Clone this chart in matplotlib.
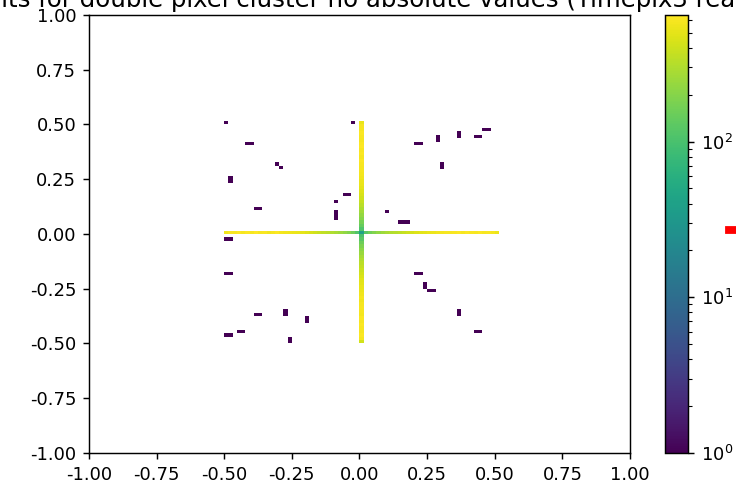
import matplotlib
matplotlib.use("Agg")
import matplotlib.pyplot as plt
from matplotlib.colors import LogNorm
from matplotlib.patches import Rectangle
import numpy as np

plt.rcParams['axes.unicode_minus'] = False

# bin grid of the 2d histogram
nbins = 128
binw = 2.0 / nbins
arm_bins = np.arange(-32, 33)          # bins from -0.5 to 0.5 along each arm

# counts along the horizontal arm (y = 0), left to right
h_counts = [560, 610, 590, 630, 600, 620, 600, 640, 590, 610, 570, 600, 620, 580, 560, 550,
            540, 520, 500, 470, 440, 410, 380, 350, 330, 300, 280, 250, 220, 190, 150, 110,
            40,
            120, 160, 190, 220, 250, 280, 300, 320, 340, 370, 400, 430, 460, 480, 500, 520,
            540, 560, 580, 600, 590, 610, 620, 600, 630, 610, 600, 620, 590, 610, 580, 540]

# counts along the vertical arm (x = 0), bottom to top (centre already in h_counts)
v_counts = [420, 600, 620, 590, 610, 630, 600, 620, 580, 600, 610, 590, 570, 600, 560, 540,
            520, 500, 480, 450, 420, 390, 360, 330, 300, 270, 240, 210, 180, 150, 120, 100,
            0,
            110, 140, 170, 200, 230, 260, 290, 330, 370, 410, 440, 470, 500, 520, 540, 560,
            580, 600, 590, 610, 620, 600, 630, 610, 650, 620, 600, 610, 620, 590, 600, 520]

# single hits scattered around the cross
dots_x = [-0.494, -0.017, -0.42, -0.404, -0.304, -0.294, -0.483, -0.483, -0.379, -0.363,
          -0.091, -0.058, -0.042, -0.091, -0.079, -0.079, 0.097, 0.149, 0.165, 0.181,
          0.212, 0.228, 0.287, 0.287, 0.366, 0.366, 0.436, 0.452, 0.465, 0.481,
          0.31, 0.31, -0.491, -0.475, -0.491, -0.475, -0.379, -0.363, -0.266, -0.266,
          -0.199, -0.199, -0.447, -0.431, -0.491, -0.475, -0.251, -0.251, 0.212, 0.228,
          0.243, 0.243, 0.265, 0.281, 0.366, 0.366, 0.436, 0.452]
dots_y = [0.505, 0.505, 0.419, 0.419, 0.315, 0.298, 0.262, 0.246, 0.123, 0.123,
          0.152, 0.18, 0.18, 0.097, 0.085, 0.069, 0.096, 0.059, 0.059, 0.059,
          0.419, 0.419, 0.439, 0.423, 0.468, 0.452, 0.446, 0.446, 0.473, 0.473,
          0.32, 0.304, -0.024, -0.024, -0.172, -0.172, -0.374, -0.374, -0.353, -0.369,
          -0.38, -0.396, -0.44, -0.44, -0.466, -0.466, -0.473, -0.489, -0.172, -0.172,
          -0.232, -0.248, -0.265, -0.265, -0.353, -0.369, -0.44, -0.44]

title = "Hits for double pixel cluster no absolute values (Timepix3 readout)"

# put everything together for hist2d
arm_pos = arm_bins * binw + 0.005
x = np.concatenate([arm_pos, np.full(len(arm_pos), 0.005), dots_x])
y = np.concatenate([np.full(len(arm_pos), 0.005), arm_pos, dots_y])
w = np.concatenate([h_counts, v_counts, np.ones(len(dots_x))])

# screenshot was taken from a figure rendered at a higher dpi
dpi = 130
fig = plt.figure(figsize=(736 / dpi, 491 / dpi), dpi=dpi)
ax = fig.add_axes([0.1209, 0.0774, 0.7351, 0.8921])
cax = fig.add_axes([0.9035, 0.0774, 0.0313, 0.8921])

h, xe, ye, im = ax.hist2d(x, y, bins=nbins, range=[[-1, 1], [-1, 1]], weights=w,
                          norm=LogNorm(vmin=1, vmax=650), cmap='viridis')
ax.set_xlim(-1, 1)
ax.set_ylim(-1, 1)
ax.set_xticks(np.arange(-1, 1.01, 0.25))
ax.set_yticks(np.arange(-1, 1.01, 0.25))
ax.xaxis.set_major_formatter(matplotlib.ticker.FormatStrFormatter('%.2f'))
ax.yaxis.set_major_formatter(matplotlib.ticker.FormatStrFormatter('%.2f'))

fig.colorbar(im, cax=cax)

# title, cut off by the figure edges like in the original screenshot
fig.text(-0.0236, 0.9857, title, ha='left', va='baseline', fontsize=13.5)

# little red mark at the right edge
fig.add_artist(Rectangle((0.9864, 0.5255), 0.03, 0.0122, transform=fig.transFigure,
                         color='red'))

fig.savefig("out.png", dpi=dpi)
